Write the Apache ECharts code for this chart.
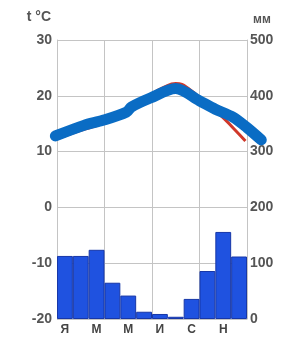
<!DOCTYPE html>
<html>
<head>
<meta charset="utf-8">
<script src="https://cdn.jsdelivr.net/npm/echarts@6/dist/echarts.min.js"></script>
<style>
html, body { margin: 0; padding: 0; background: #fff; }
#chart { width: 283px; height: 338px; }
</style>
</head>
<body>
<div id="chart"></div>
<script>
// months (Russian initials), precipitation mm, temperature curves
const months = ['Я', 'Ф', 'М', 'А', 'М', 'И', 'И', 'А', 'С', 'О', 'Н', 'Д']
const precip = [113, 113, 124, 65, 42, 13, 9, 4, 36, 86, 156, 112]
// red temperature curve: [month position, °C]
const tempRed = [[0, 12.3], [1.5, 13.8], [3, 15.2], [4.5, 17.4], [5.8, 20.0], [6.8, 21.6], [7.5, 22.2], [8.4, 21.1], [9.4, 18.6], [10.3, 16.6], [11.2, 14.0], [11.9, 11.9]]
// blue hand-drawn curve over it (runs a little past the frame)
const tempBlue = [[-0.1, 12.8], [1.7, 14.7], [2.9, 15.6], [4.4, 17.1], [4.7, 18.0], [5.9, 19.6], [7.5, 21.3], [9.0, 19.1], [10.0, 17.6], [11.1, 16.2], [12.0, 14.3], [12.9, 12.1]]

// one month = 190 / 12 px; the line grid spans -0.5 .. 13 months
const monthPx = 190 / 12

let chart = echarts.init(document.getElementById('chart'))
let labelStyle = {
  color: '#555',
  fontFamily: 'Liberation Sans',
  fontWeight: 'bold',
  fontSize: 14
}
let chartOpt = {
  animation: false,
  grid: [
    { left: 57, right: 36, top: 40, bottom: 19 },
    { left: 57 - 0.5 * monthPx, right: 283 - (57 + 13 * monthPx), top: 40, bottom: 19 }
  ],
  xAxis: [{
    type: 'category',
    data: months,
    gridIndex: 0,
    boundaryGap: true,
    axisLine: { show: false },
    axisTick: { show: false },
    axisLabel: Object.assign({}, labelStyle, { interval: 1, margin: 5, fontSize: 12, color: '#444' }),
    splitLine: {
      show: true,
      interval: function (i) { return i % 3 === 0 },
      lineStyle: { color: '#c4c4c4', width: 1 }
    }
  }, {
    type: 'value',
    gridIndex: 1,
    min: -0.5,
    max: 13,
    show: false
  }],
  yAxis: [{
    type: 'value',
    gridIndex: 0,
    min: -20,
    max: 30,
    interval: 10,
    position: 'left',
    name: 't °C',
    nameGap: 16,
    nameTextStyle: Object.assign({}, labelStyle, { align: 'right', padding: [0, 6, 0, 0] }),
    axisLine: { show: true, lineStyle: { color: '#c4c4c4' } },
    axisTick: { show: false },
    axisLabel: Object.assign({}, labelStyle, { margin: 5 }),
    splitLine: { show: true, lineStyle: { color: '#c4c4c4', width: 1 } }
  }, {
    type: 'value',
    gridIndex: 0,
    min: 0,
    max: 500,
    interval: 100,
    position: 'right',
    name: 'мм',
    nameGap: 14,
    nameTextStyle: Object.assign({}, labelStyle, { align: 'left', fontSize: 12, padding: [0, 0, 0, 6] }),
    axisLine: { show: true, lineStyle: { color: '#c4c4c4' } },
    axisTick: { show: false },
    axisLabel: Object.assign({}, labelStyle, { margin: 3 }),
    splitLine: { show: false }
  }, {
    type: 'value',
    gridIndex: 1,
    min: -20,
    max: 30,
    interval: 10,
    show: false
  }],
  series: [{
    type: 'bar',
    data: precip,
    xAxisIndex: 0,
    yAxisIndex: 1,
    barCategoryGap: '0%',
    itemStyle: { color: '#1f52e0', borderColor: '#1737a8', borderWidth: 1 }
  }, {
    type: 'line',
    data: tempRed,
    xAxisIndex: 1,
    yAxisIndex: 2,
    smooth: true,
    symbol: 'none',
    lineStyle: { color: '#d0382a', width: 3 }
  }, {
    type: 'line',
    data: tempBlue,
    xAxisIndex: 1,
    yAxisIndex: 2,
    smooth: 0.3,
    clip: false,
    symbol: 'none',
    lineStyle: { color: '#0a6cc4', width: 11, cap: 'round', join: 'round' }
  }]
}
chart.setOption(chartOpt)
</script>
</body>
</html>
